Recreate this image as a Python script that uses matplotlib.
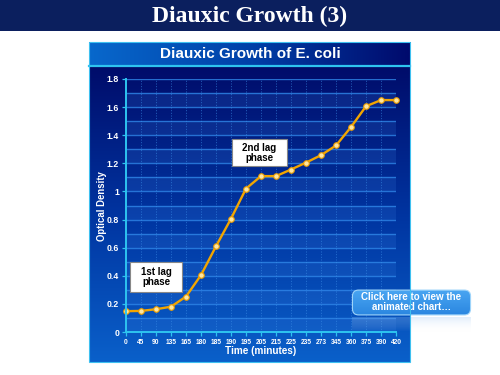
import numpy as np
import matplotlib
matplotlib.use("Agg")
import matplotlib.pyplot as plt
from matplotlib.colors import LinearSegmentedColormap
from matplotlib.patches import Rectangle, FancyBboxPatch
from matplotlib.lines import Line2D
from matplotlib.ticker import FuncFormatter, MultipleLocator

# ---- data ----
time_labels = ["0", "45", "90", "135", "165", "180", "185", "190", "195", "205",
               "215", "225", "235", "273", "345", "360", "375", "390", "420"]
optical_density = [0.148, 0.150, 0.162, 0.180, 0.252, 0.405, 0.610, 0.806, 1.020,
                   1.109, 1.109, 1.156, 1.205, 1.258, 1.327, 1.458, 1.606, 1.650, 1.650]
page_title = "Diauxic Growth (3)"
chart_title = "Diauxic Growth of E. coli"
x_title = "Time (minutes)"
y_title = "Optical Density"
note1 = "1st lag\nphase"
note2 = "2nd lag\nphase"
button_text = "Click here to view the\nanimated chart\u2026"

W, H = 500, 375
fig = plt.figure(figsize=(5, 3.75), dpi=100, facecolor="white")

def fx(px):
    return px / W

def fy(py):
    return 1 - py / H

# ---- top banner ----
fig.patches.append(Rectangle((0, fy(31)), 1, 31 / H, transform=fig.transFigure,
                             facecolor="#0B1F5E", edgecolor="none", zorder=0))
fig.text(0.5, fy(16), page_title, ha="center", va="center", color="white",
         fontsize=17, fontweight="bold", family="Liberation Serif")

# ---- panel background (vertical gradient) ----
panel_cmap = LinearSegmentedColormap.from_list("panel", ["#0A60CA", "#0034A0", "#000C6A"])
bg = fig.add_axes([fx(89), fy(362), fx(321), (362 - 66) / H])
bg.imshow(np.linspace(0, 1, 256).reshape(-1, 1), cmap=panel_cmap, aspect="auto",
          extent=[0, 1, 0, 1], origin="lower")
bg.set_axis_off()

# ---- title bar (horizontal gradient) ----
bar_cmap = LinearSegmentedColormap.from_list("bar", ["#0868CC", "#0040A8", "#000A6C"])
tb = fig.add_axes([fx(89), fy(65), fx(321), 23 / H])
tb.imshow(np.linspace(0, 1, 256).reshape(1, -1), cmap=bar_cmap, aspect="auto",
          extent=[0, 1, 0, 1])
tb.set_axis_off()
fig.text(fx(250), fy(53.5), chart_title, ha="center", va="center", color="white",
         fontsize=11, fontweight="bold", family="Liberation Sans")
fig.lines.append(Line2D([fx(89), fx(410)], [fy(65.5), fy(65.5)], transform=fig.transFigure,
                        color="#2EC4F0", lw=1.6))
fig.patches.append(Rectangle((fx(89), fy(362)), fx(321), (362 - 42) / H,
                             transform=fig.transFigure, facecolor="none",
                             edgecolor="#3EC0F0", lw=0.8, zorder=5))

# ---- main axes ----
ax = fig.add_axes([fx(126), fy(332), fx(270), 253 / H])
ax.set_facecolor("none")
x = np.arange(len(time_labels))
ax.set_xlim(0, len(time_labels) - 1)
ax.set_ylim(0, 1.8)

# alternating bands & grid
for k in range(9):
    ax.axhspan(0.2 * k, 0.2 * k + 0.1, color="#3A7FE0", alpha=0.18, lw=0, zorder=0)
for v in np.arange(0.1, 1.81, 0.1):
    ax.axhline(v, color="#2F86E8", lw=1.0, alpha=0.8, zorder=1)
for xi in x[1:]:
    ax.axvline(xi, color="#3C8FE8", lw=0.6, ls=(0, (1.2, 2.0)), alpha=0.7, zorder=1)

ax.plot(x, optical_density, color="#F2A500", lw=1.7, zorder=3, clip_on=False,
        marker="o", markersize=4, markerfacecolor="#FFE6A0",
        markeredgecolor="#E89A00", markeredgewidth=0.8)

for s in ["top", "right"]:
    ax.spines[s].set_visible(False)
for s in ["left", "bottom"]:
    ax.spines[s].set_color("#2EC4F0")
    ax.spines[s].set_linewidth(1.4)
    ax.spines[s].set_zorder(4)

ax.set_xticks(x)
ax.set_xticklabels(time_labels)
ax.yaxis.set_major_locator(MultipleLocator(0.2))
ax.yaxis.set_major_formatter(FuncFormatter(lambda v, p: f"{v:g}"))
ax.tick_params(axis="x", colors="#2EC4F0", length=3, width=0.9, pad=2,
               labelsize=4.8, labelcolor="white")
ax.tick_params(axis="y", colors="#2EC4F0", length=3, width=0.9, pad=2,
               labelsize=6.3, labelcolor="white")
for lab in ax.get_xticklabels() + ax.get_yticklabels():
    lab.set_fontweight("bold")
    lab.set_family("Liberation Sans")

fig.text(fx(261), fy(351), x_title, ha="center", va="center", color="white",
         fontsize=7.2, fontweight="bold", family="Liberation Sans")
fig.text(fx(102), fy(206), y_title, ha="center", va="center", color="white",
         fontsize=6.9, fontweight="bold", family="Liberation Sans", rotation=90)

# ---- annotation boxes ----
def note(x0, x1, y0, y1, text):
    ax.add_patch(Rectangle((x0, y0), x1 - x0, y1 - y0, facecolor="white",
                           edgecolor="#888888", lw=0.8, zorder=5))
    ax.text((x0 + x1) / 2, (y0 + y1) / 2, text, ha="center", va="center",
            fontsize=7, fontweight="bold", family="Liberation Sans",
            color="black", zorder=6, linespacing=1.0)

note(0.27, 3.73, 0.284, 0.498, note1)
note(7.07, 10.73, 1.18, 1.373, note2)

# ---- button ----
btn_ax = fig.add_axes([fx(350), fy(316), fx(123), 27 / H])
btn_ax.set_xlim(0, 1)
btn_ax.set_ylim(0, 1)
btn_ax.set_axis_off()
btn_cmap = LinearSegmentedColormap.from_list("btn", ["#2A86E0", "#4AA6F2"])
grad = btn_ax.imshow(np.linspace(0, 1, 64).reshape(-1, 1), cmap=btn_cmap, aspect="auto",
                     extent=[0, 1, 0, 1], origin="lower")
clip = FancyBboxPatch((0.02, 0.04), 0.96, 0.92, boxstyle="round,pad=0,rounding_size=0.05",
                      transform=btn_ax.transAxes, facecolor="none",
                      edgecolor="#9ED4FA", lw=0.8, mutation_aspect=4.5)
btn_ax.add_patch(clip)
grad.set_clip_path(clip)
btn_ax.text(0.5, 0.5, button_text, ha="center", va="center", color="white",
            fontsize=7, fontweight="bold", family="Liberation Sans", linespacing=1.0)

# faint reflection
refl = fig.add_axes([fx(352), fy(332), fx(119), 15 / H])
refl.set_axis_off()
refl_cmap = LinearSegmentedColormap.from_list("refl", [(1, 1, 1, 0), (0.55, 0.75, 0.95, 0.3)])
refl.imshow(np.linspace(0, 1, 64).reshape(-1, 1), cmap=refl_cmap, aspect="auto",
            extent=[0, 1, 0, 1], origin="lower")

fig.savefig("out.png", dpi=100, facecolor="white")
